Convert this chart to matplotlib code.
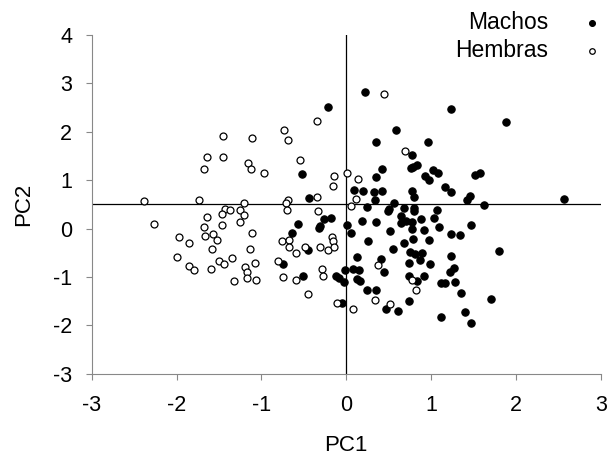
#!/usr/bin/env python

""" PCA scatter of males and females (PC1 vs PC2). """

import matplotlib
matplotlib.use("Agg")
import matplotlib.pyplot as plt

plt.rcParams["font.family"] = ["Liberation Sans", "DejaVu Sans"]
plt.rcParams["axes.unicode_minus"] = False

machos_pc1 = [0.22, -0.21, 1.24, 1.88, 0.59, 0.35, 0.96, 0.77, 0.76, 0.79, 0.83,
              -0.52, 0.42, 0.35, 1.02, 1.08, 0.93, 0.97, 1.16, 1.24, 1.52, 1.58,
              0.09, 0.20, 0.33, 0.42, 0.78, 0.80, -0.44, 0.34, 0.56, 1.46, 1.42,
              2.57, 1.62, 0.25, 0.49, 0.50, 0.68, 0.80, 0.80, 1.07, 1.03, 0.88,
              0.64, 0.71, 0.65, 0.77, 0.35, 0.18, -0.18, -0.26, -0.31, -0.32,
              -0.57, 0.01, 0.06, -0.64, 1.47, 1.09, 0.78, 0.92, 0.51, 1.24, 1.34,
              0.97, 0.79, 0.68, 0.26, 0.55, -0.45, 0.75, 0.81, 0.89, 1.80, 1.23,
              0.13, 0.41, 0.87, -0.75, 0.74, 0.99, 1.27, 1.22, -0.01, 0.08, 0.15,
              0.45, -0.51, -0.12, -0.08, 0.74, 0.92, 0.13, 0.16, -0.03, 0.83,
              1.12, 1.17, 1.28, 0.25, 0.35, 1.35, 0.74, 1.71, -0.05, 0.47, 0.61,
              1.40, 1.12, 1.47]
machos_pc2 = [2.83, 2.51, 2.48, 2.20, 2.04, 1.80, 1.78, 1.52, 1.25, 1.28, 1.32,
              1.13, 1.24, 1.06, 1.22, 1.15, 1.08, 1.01, 0.87, 0.76, 1.10, 1.15,
              0.79, 0.77, 0.75, 0.78, 0.77, 0.66, 0.64, 0.59, 0.52, 0.68, 0.60,
              0.62, 0.49, 0.44, 0.36, 0.40, 0.43, 0.42, 0.36, 0.38, 0.23, 0.20,
              0.27, 0.16, 0.12, 0.14, 0.14, 0.16, 0.23, 0.19, 0.05, 0.01,
              0.10, 0.08, -0.08, -0.08, 0.08, 0.03, -0.01, -0.03, -0.05, -0.12, -0.14,
              -0.23, -0.22, -0.30, -0.25, -0.42, -0.45, -0.49, -0.52, -0.50, -0.46, -0.56,
              -0.58, -0.62, -0.65, -0.73, -0.70, -0.73, -0.81, -0.90, -0.85, -0.84, -0.86,
              -0.90, -0.98, -0.97, -1.02, -0.97, -0.97, -1.04, -1.08, -1.10, -1.08,
              -1.13, -1.13, -1.10, -1.26, -1.26, -1.32, -1.50, -1.46, -1.54, -1.65, -1.71,
              -1.73, -1.83, -1.94]

hembras_pc1 = [0.45, -0.35, -0.73, -0.69, -1.45, -1.11, -1.64, -1.45, -1.68, -1.16,
               -1.12, -0.97, -0.54, 0.69, 0.01, -0.14, -0.16, 0.14, -2.39, -1.74,
               -1.20, -0.69, -0.71, -0.70, -0.35, 0.12, 0.06, -0.33, -2.27, -1.43,
               -1.37, -1.47, -1.25, -1.21, -1.64, -1.25, -1.68, -1.47, -1.67, -1.57,
               -1.52, -1.11, -1.97, -1.85, -1.58, -1.13, -0.76, -0.67, -0.67, -0.59,
               -0.49, -0.31, -0.22, -0.17, -0.16, -0.14, -2.00, -1.35, -1.50, -1.44,
               -1.85, -1.80, -1.60, -0.80, -1.08, -1.19, -1.17, -1.17, -1.07, -1.32,
               -0.74, -0.59, -0.29, -0.28, 0.38, 0.78, 0.82, -0.45, -0.11, 0.34,
               0.51, 0.08]
hembras_pc2 = [2.79, 2.22, 2.03, 1.83, 1.92, 1.88, 1.48, 1.49, 1.23, 1.36,
               1.23, 1.16, 1.41, 1.61, 1.16, 1.08, 0.89, 1.02, 0.58, 0.59,
               0.54, 0.59, 0.53, 0.38, 0.65, 0.61, 0.46, 0.37, 0.10, 0.40,
               0.38, 0.30, 0.39, 0.28, 0.24, 0.14, 0.04, 0.07, -0.15, -0.11,
               -0.23, -0.10, -0.18, -0.30, -0.41, -0.42, -0.25, -0.24, -0.37, -0.51,
               -0.38, -0.38, -0.45, -0.18, -0.26, -0.38, -0.58, -0.61, -0.66, -0.73,
               -0.77, -0.86, -0.84, -0.66, -0.71, -0.80, -0.89, -1.02, -1.06, -1.08,
               -0.99, -1.06, -0.83, -0.97, -0.75, -1.07, -1.27, -1.35, -1.54, -1.47,
               -1.56, -1.67]

xticks = [-3, -2, -1, 0, 1, 2, 3]
yticks = [-3, -2, -1, 0, 1, 2, 3, 4]


def run():
    fig = plt.figure(figsize=(6.08, 4.61), dpi=100)
    ax = fig.add_axes([0.151, 0.189, 0.837, 0.735])

    ax.axhline(0.5, color="black", lw=0.9, zorder=1)
    ax.axvline(0, color="black", lw=0.9, zorder=1)

    ax.scatter(machos_pc1, machos_pc2, s=28, c="black", edgecolors="black",
               linewidths=0.8, label="Machos", zorder=3)
    ax.scatter(hembras_pc1, hembras_pc2, s=25, c="white", edgecolors="black",
               linewidths=0.9, label="Hembras", zorder=3)

    ax.set_xlim(-3, 3)
    ax.set_ylim(-3, 4)
    ax.set_xticks(xticks)
    ax.set_yticks(yticks)
    ax.tick_params(labelsize=15.5, length=4, color="#888888")
    ax.tick_params(axis="x", pad=11)
    ax.tick_params(axis="y", pad=10)
    for side in ("top", "right"):
        ax.spines[side].set_visible(False)
    for side in ("left", "bottom"):
        ax.spines[side].set_color("#888888")

    ax.set_xlabel("PC1", fontsize=16, labelpad=14)
    ax.set_ylabel("PC2", fontsize=16, labelpad=14)

    ax.legend(loc="upper right", bbox_to_anchor=(0.996, 1.071), frameon=False,
              markerfirst=False, fontsize=16.5, handlelength=0.6,
              handletextpad=1.6, labelspacing=0.2, borderaxespad=0,
              borderpad=0, markerscale=0.8)

    fig.savefig("out.png", dpi=100)


if __name__ == "__main__":
    run()
